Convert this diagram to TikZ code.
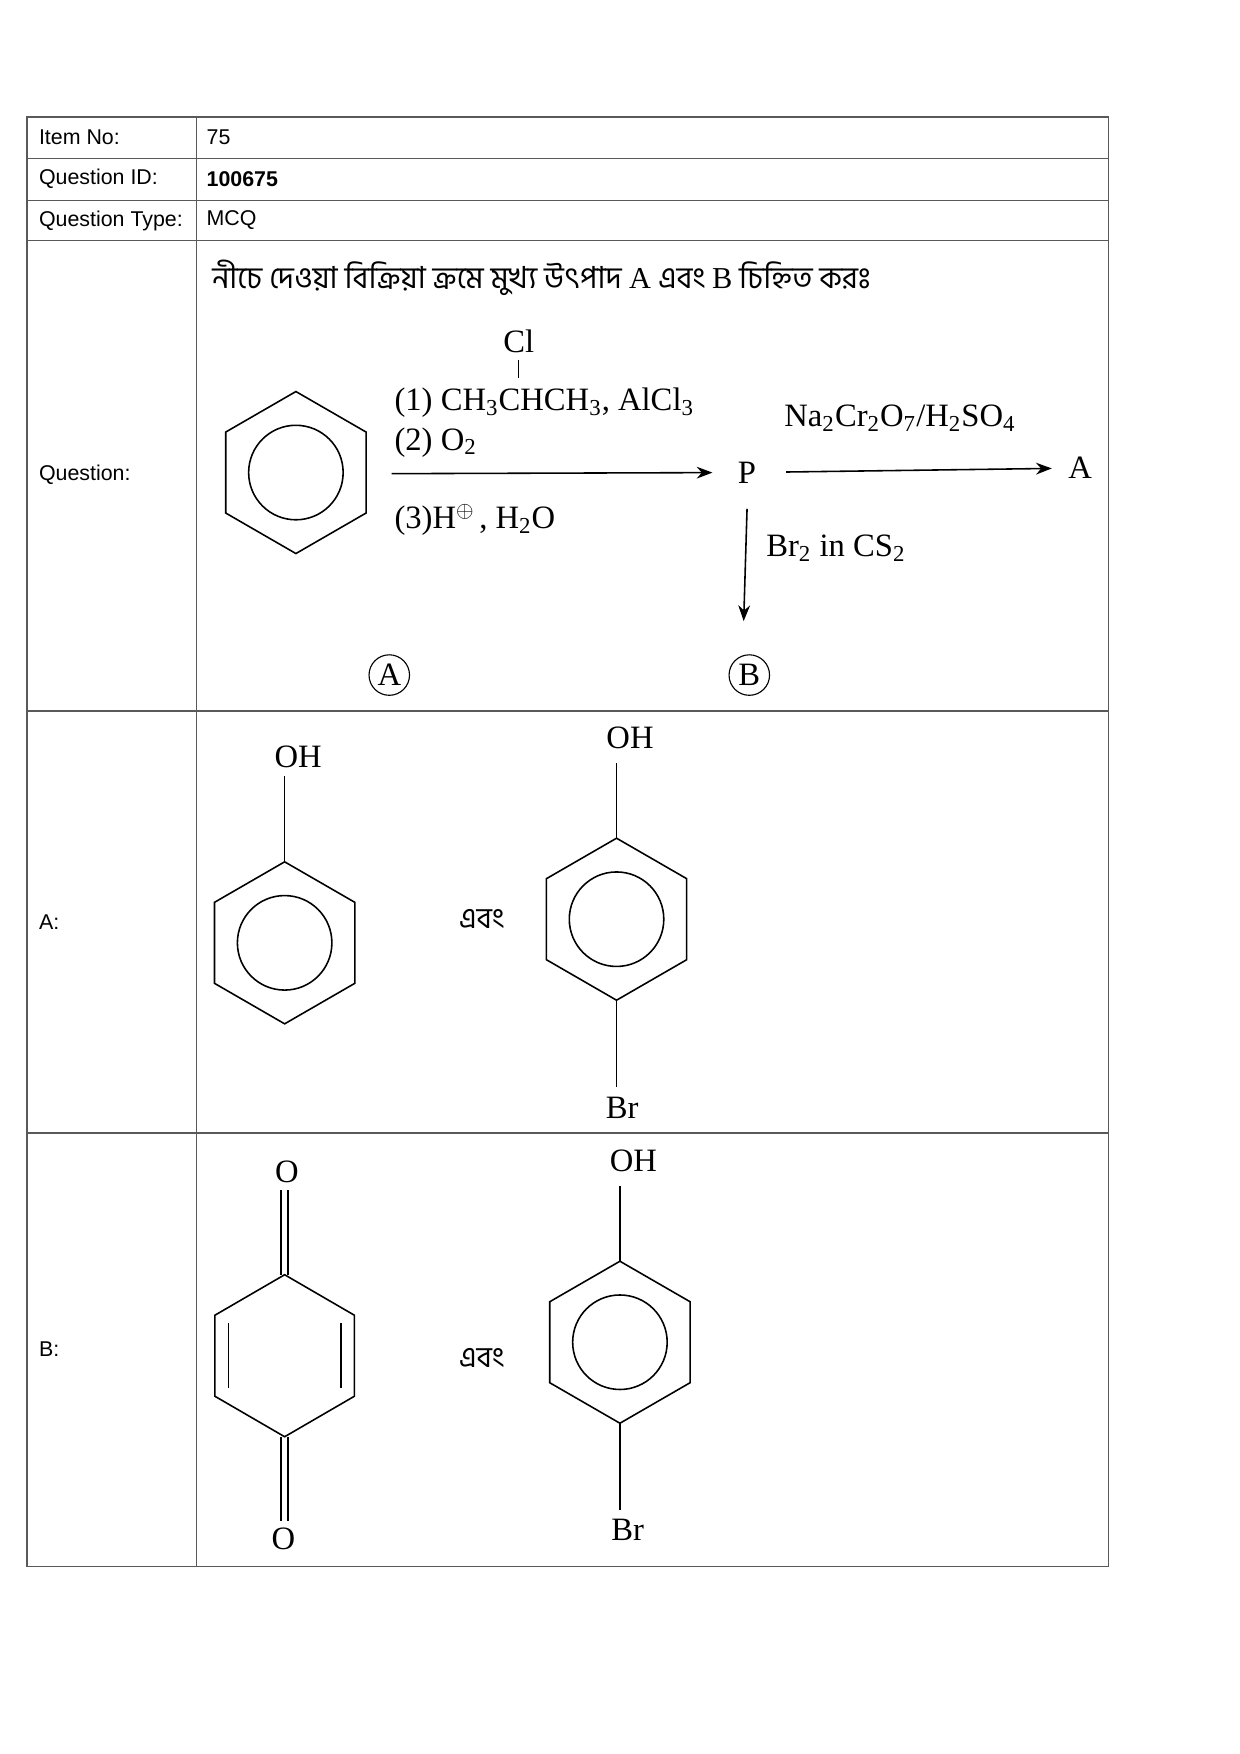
\documentclass[tikz,border=0pt]{standalone}
\usepackage{fontspec}
\setmainfont{Liberation Serif}
\newfontfamily\tabfont{Liberation Sans}
\newfontfamily\bnfont[Script=Bengali]{Hind Siliguri}
\usetikzlibrary{arrows.meta, positioning}
\newcommand{\chs}[1]{\textsubscript{#1}}
\newcommand{\hexring}[2]{% center, name
  \coordinate (#2) at #1;
  \draw (#2) ++(90:72) -- ++(-30:72) -- ++(-90:72) -- ++(-150:72) -- ++(150:72) -- ++(90:72) -- cycle;
}
\begin{document}
\begin{tikzpicture}[
x=0.5pt, y=-0.5pt,
>={Stealth[length=7pt]},
line width=0.7pt,
every node/.style={inner sep=1pt},
cell/.style={anchor=west, font=\tabfont\fontsize{9.5}{11}\selectfont},
chem/.style={font=\fontsize{14.5}{16}\selectfont},
]
\useasboundingbox (0,0) rectangle (1102,1559);
%% table
\draw[gray!70!black, line width=0.5pt] (24,104) rectangle (985,1392);
\foreach \y in {141,178,214,632,1007} \draw[gray!70!black, line width=0.5pt] (24,\y) -- (985,\y);
\draw[gray!70!black, line width=0.5pt] (175,104) -- (175,1392);
\node[cell] (l1) at (32,122) {Item No:};
\node[cell] (v1) at (181,122) {75};
\node[cell] (l2) at (32,159) {Question ID:};
\node[cell] (v2) at (181,159) {\bfseries 100675};
\node[cell] (l3) at (32,196) {Question Type:};
\node[cell] (v3) at (181,196) {MCQ};
\node[cell] (l4) at (32,422) {Question:};
\node[cell] (l5) at (32,820) {A:};
\node[cell] (l6) at (32,1199) {B:};

%% question
\node[anchor=west, font=\bnfont\fontsize{13.5}{15}\selectfont] (qtext) at (186,247) {নীচে দেওয়া বিক্রিয়া ক্রমে মুখ্য উৎপাদ \textrm{A} এবং \textrm{B} চিহ্নিত করঃ};
\hexring{(263,420)}{benz}
\draw (benz) circle (42);
\coordinate (s1) at (348,421);
\node[chem] (P) at (664,420) {P};
\node[chem] (A) at (960,416) {A};
\draw[->, shorten >=10pt] (s1) -- (P.west);
\draw[->, shorten <=12pt, shorten >=6pt] (P) -- (A);
\node[chem] (Cl) at (461,303) {Cl};
\node[chem, anchor=base west] (r1) at (348,365) {(1) CH\chs{3}CHCH\chs{3}, AlCl\chs{3}};
\draw[line width=0.5pt] (Cl.south) ++(0,4) -- ++(0,16);
\node[chem, anchor=base west] (r2) at (348,400) {(2) O\chs{2}};
\node[chem, anchor=base west] (r3) at (348,470) {(3)H$^{\oplus}$\hspace{2pt}, H\chs{2}O};
\node[chem] (ox) at (800,372) {Na\chs{2}Cr\chs{2}O\chs{7}/H\chs{2}SO\chs{4}};
\coordinate (down) at (661,552);
\draw[->] ([yshift=-10pt]P.south) -- (down);
\node[chem] (br) at (743,487) {Br\chs{2} in CS\chs{2}};
\node[chem, circle, draw, line width=0.5pt, inner sep=0.5pt, minimum size=18pt] (cA) at (346,600) {A};
\node[chem, circle, draw, line width=0.5pt, inner sep=0.5pt, minimum size=18pt] (cB) at (666,600) {B};

%% option A
\hexring{(253,838)}{pa}
\draw (pa) circle (42);
\node[chem] (oha) at (265,673) {OH};
\draw (253,766) -- (253,690);
\node[chem, font=\bnfont\fontsize{13}{15}\selectfont] (ea) at (428,817) {এবং};
\hexring{(548,817)}{pb}
\draw (pb) circle (42);
\node[chem] (ohb) at (560,656) {OH};
\draw (548,745) -- (548,678);
\node[chem] (bra) at (553,985) {Br};
\draw (548,889) -- (548,966);

%% option B
\coordinate (q) at (253,1205);
\draw (253,1133) -- (315,1169) -- (315,1241) -- (253,1277) -- (191,1241) -- (191,1169) -- cycle;
\draw (303,1176) -- (303,1234);
\draw (203,1176) -- (203,1234);
\node[chem] (o1) at (255,1042) {O};
\draw (250,1133) -- (250,1058) (256,1133) -- (256,1058);
\node[chem] (o2) at (252,1368) {O};
\draw (250,1277) -- (250,1352) (256,1277) -- (256,1352);
\node[chem, font=\bnfont\fontsize{13}{15}\selectfont] (eb) at (428,1207) {এবং};
\hexring{(551,1193)}{pc}
\draw (pc) circle (42);
\node[chem] (ohc) at (563,1032) {OH};
\draw (551,1121) -- (551,1054);
\node[chem] (brb) at (558,1360) {Br};
\draw (551,1265) -- (551,1342);
\end{tikzpicture}
\end{document}
